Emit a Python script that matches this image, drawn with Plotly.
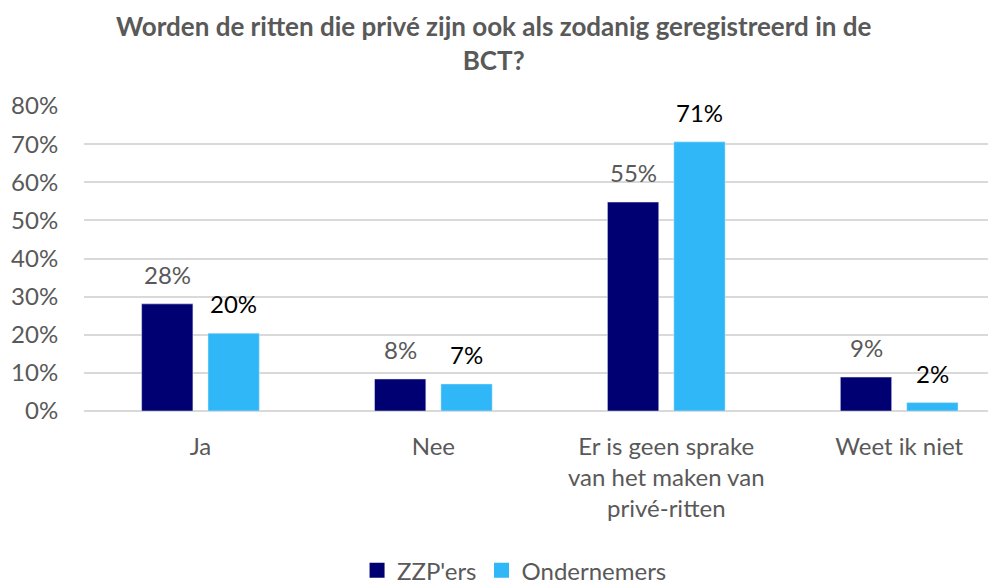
import plotly.graph_objects as go

categories = ["Ja", "Nee", "Er is geen sprake<br>van het maken van<br>privé-ritten", "Weet ik niet"]
zzp = [0.281, 0.084, 0.548, 0.089]
ondernemers = [0.204, 0.071, 0.706, 0.022]
series_names = ["ZZP'ers", "Ondernemers"]
tick_vals = [0, 0.1, 0.2, 0.3, 0.4, 0.5, 0.6, 0.7, 0.8]

navy = "#000072"
sky = "#2FB7F7"
grey = "#595959"
font = "Lato"

fig = go.Figure()
for name, vals, col in [(series_names[0], zzp, navy), (series_names[1], ondernemers, sky)]:
    fig.add_bar(x=categories, y=vals, name=name, marker=dict(color=col), showlegend=False)
    # bigger square legend key, like the reference
    fig.add_scatter(x=[None], y=[None], mode="markers", name=name,
                    marker=dict(symbol="square", size=15, color=col))

# data labels above the bars
for vals, shift, col in [(zzp, -33, grey), (ondernemers, 33, "black")]:
    for c, v in zip(categories, vals):
        fig.add_annotation(x=c, y=v, text=f"{round(v * 100)}%", showarrow=False,
                           xshift=shift, yanchor="bottom", yshift=13,
                           font=dict(family=font, size=24, color=col))

# title as annotation so it sits where the reference has it
fig.add_annotation(xref="paper", yref="paper", x=0.445, y=1, yshift=98,
                   xanchor="center", yanchor="top", showarrow=False,
                   text="<b>Worden de ritten die privé zijn ook als zodanig geregistreerd in de<br>BCT?</b>",
                   font=dict(family=font, size=26, color=grey))

# page body has an 8px margin, so margins are reduced by 8
fig.update_layout(
    width=996, height=583,
    margin=dict(l=76, r=0, t=98, b=180, autoexpand=False),
    paper_bgcolor="white", plot_bgcolor="white",
    barmode="group", bargap=0.43, bargroupgap=0.227,
    font=dict(family=font, size=24, color=grey),
    legend=dict(orientation="h", x=0.468, xanchor="center", y=-0.45, yanchor="top",
                font=dict(family=font, size=24, color=grey)),
    showlegend=True,
)
fig.update_xaxes(range=[-0.5, 3.45], showline=False, automargin=False,
                 ticks="outside", ticklen=14, tickcolor="rgba(0,0,0,0)",
                 tickfont=dict(family=font, size=24, color=grey))
fig.update_yaxes(range=[0, 0.8], tickvals=tick_vals, tickformat=".0%", automargin=False,
                 showgrid=True, gridcolor="#D9D9D9", gridwidth=1.5,
                 zeroline=True, zerolinecolor="#D9D9D9", zerolinewidth=1.5,
                 ticks="outside", ticklen=20, tickcolor="rgba(0,0,0,0)",
                 tickfont=dict(family=font, size=24, color=grey))

fig.write_html("out.html")
